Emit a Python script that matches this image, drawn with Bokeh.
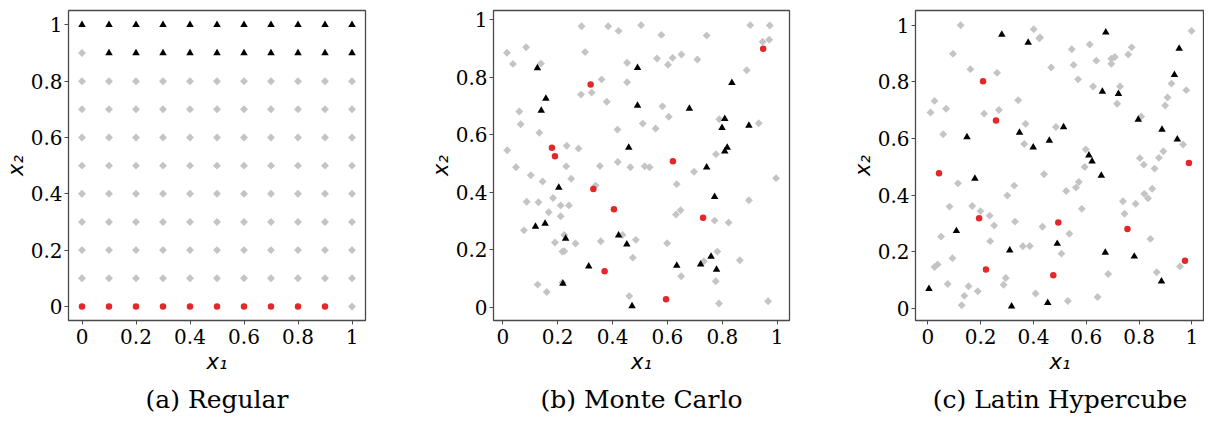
import math
from bokeh.plotting import figure
from bokeh.layouts import row
from bokeh.models import Range1d, FixedTicker, CustomJSTickFormatter, Title
from bokeh.embed import file_html
from bokeh.resources import INLINE

# ---------------- data ----------------
grid = [0.0, 0.1, 0.2, 0.3, 0.4, 0.5, 0.6, 0.7, 0.8, 0.9, 1.0]
ticks = [0, 0.2, 0.4, 0.6, 0.8, 1]

# (a) Regular: red circles on the bottom row (x < 1), black triangles on the top two rows
a_red_x = [0.0, 0.1, 0.2, 0.3, 0.4, 0.5, 0.6, 0.7, 0.8, 0.9]
a_red_y = [0.0] * 10
a_black_x = [0.0, 0.1, 0.2, 0.3, 0.4, 0.5, 0.6, 0.7, 0.8, 0.9, 1.0,
             0.1, 0.2, 0.3, 0.4, 0.5, 0.6, 0.7, 0.8, 0.9, 1.0]
a_black_y = [1.0] * 11 + [0.9] * 10
_special = set(zip(a_red_x, a_red_y)) | set(zip(a_black_x, a_black_y))
a_gray = [(x, y) for y in grid for x in grid if (x, y) not in _special]
a_gray_x = [p[0] for p in a_gray]
a_gray_y = [p[1] for p in a_gray]

# (b) Monte Carlo
b_red_x = [0.179, 0.190, 0.320, 0.949, 0.620, 0.330, 0.405, 0.371, 0.730, 0.595]
b_red_y = [0.555, 0.525, 0.775, 0.900, 0.508, 0.411, 0.341, 0.125, 0.311, 0.027]
b_black_x = [0.126, 0.157, 0.140, 0.459, 0.491, 0.835, 0.491, 0.680, 0.809, 0.799,
             0.897, 0.743, 0.809, 0.818, 0.204, 0.119, 0.154, 0.229, 0.422, 0.452,
             0.313, 0.219, 0.772, 0.634, 0.721, 0.759, 0.779, 0.471]
b_black_y = [0.832, 0.726, 0.684, 0.555, 0.833, 0.781, 0.702, 0.691, 0.656, 0.624,
             0.632, 0.487, 0.542, 0.555, 0.416, 0.280, 0.291, 0.238, 0.250, 0.218,
             0.142, 0.082, 0.384, 0.144, 0.149, 0.176, 0.130, 0.003]
b_gray_x = [0.015, 0.037, 0.085, 0.139, 0.060, 0.065, 0.133, 0.016, 0.233, 0.276,
            0.048, 0.231, 0.287, 0.300, 0.384, 0.422, 0.453, 0.360, 0.285, 0.324,
            0.379, 0.453, 0.418, 0.354, 0.419,
            0.504, 0.578, 0.743, 0.902, 0.973, 0.947, 0.971, 0.562, 0.602, 0.619,
            0.651, 0.709, 0.889, 0.582, 0.605, 0.789, 0.933, 0.510, 0.557, 0.465,
            0.517, 0.535, 0.697, 0.777,
            0.102, 0.145, 0.249, 0.338, 0.087, 0.130, 0.183, 0.211, 0.241, 0.167,
            0.211, 0.077, 0.224, 0.190, 0.265, 0.217, 0.224, 0.357, 0.436, 0.127,
            0.217, 0.160, 0.461,
            0.996, 0.634, 0.897, 0.648, 0.631, 0.772, 0.823, 0.485, 0.599, 0.474,
            0.733, 0.782, 0.864, 0.650, 0.776, 0.788, 0.967]
b_gray_y = [0.886, 0.847, 0.905, 0.848, 0.681, 0.637, 0.607, 0.546, 0.562, 0.552,
            0.487, 0.490, 0.978, 0.888, 0.978, 0.962, 0.851, 0.793, 0.740, 0.747,
            0.715, 0.783, 0.618, 0.491, 0.505,
            0.982, 0.948, 0.946, 0.982, 0.981, 0.924, 0.931, 0.866, 0.844, 0.868,
            0.880, 0.862, 0.825, 0.699, 0.663, 0.654, 0.640, 0.639, 0.622, 0.487,
            0.490, 0.487, 0.471, 0.532,
            0.459, 0.437, 0.447, 0.423, 0.367, 0.365, 0.380, 0.354, 0.354, 0.330,
            0.316, 0.267, 0.251, 0.225, 0.221, 0.193, 0.194, 0.229, 0.251, 0.078,
            0.085, 0.052, 0.038,
            0.449, 0.428, 0.372, 0.337, 0.322, 0.301, 0.294, 0.234, 0.222, 0.172,
            0.159, 0.193, 0.163, 0.107, 0.090, 0.012, 0.020]

# (c) Latin Hypercube
c_red_x = [0.209, 0.258, 0.989, 0.042, 0.194, 0.220, 0.494, 0.756, 0.974, 0.475]
c_red_y = [0.802, 0.664, 0.514, 0.478, 0.319, 0.138, 0.304, 0.281, 0.169, 0.118]
c_black_x = [0.280, 0.380, 0.148, 0.347, 0.399, 0.674, 0.952, 0.934, 0.661, 0.722,
             0.797, 0.514, 0.887, 0.460, 0.945, 0.610, 0.622, 0.178, 0.108, 0.310,
             0.004, 0.317, 0.657, 0.490, 0.672, 0.782, 0.885, 0.454]
c_black_y = [0.967, 0.939, 0.605, 0.621, 0.569, 0.975, 0.918, 0.825, 0.766, 0.758,
             0.667, 0.641, 0.632, 0.593, 0.597, 0.541, 0.520, 0.459, 0.274, 0.206,
             0.070, 0.008, 0.469, 0.229, 0.198, 0.184, 0.096, 0.020]
c_gray_x = [0.124, 0.401, 0.422, 0.425, 0.095, 0.161, 0.262, 0.025, 0.010, 0.069,
            0.213, 0.269, 0.342, 0.058, 0.370, 0.365,
            0.999, 0.545, 0.613, 0.772, 0.759, 0.695, 0.708, 0.695, 0.638, 0.467,
            0.552, 0.569, 0.923, 0.979, 0.626, 0.728, 0.717, 0.908, 0.899, 0.808,
            0.485, 0.967, 0.598, 0.594, 0.892, 0.875, 0.803, 0.818, 0.859,
            0.114, 0.301, 0.327, 0.440, 0.082, 0.168, 0.199, 0.234, 0.251, 0.330,
            0.434, 0.050, 0.236, 0.360, 0.386, 0.093, 0.025, 0.037, 0.075, 0.154,
            0.138, 0.189, 0.128, 0.295, 0.287, 0.408,
            0.572, 0.561, 0.524, 0.850, 0.820, 0.834, 0.739, 0.787, 0.583, 0.745,
            0.536, 0.843, 0.506, 0.955, 0.867, 0.683, 0.530, 0.643]
c_gray_y = [1.000, 0.986, 0.954, 0.957, 0.899, 0.845, 0.832, 0.733, 0.692, 0.705,
            0.688, 0.701, 0.735, 0.615, 0.652, 0.581,
            0.980, 0.915, 0.932, 0.922, 0.897, 0.882, 0.888, 0.864, 0.875, 0.851,
            0.860, 0.809, 0.794, 0.771, 0.784, 0.784, 0.723, 0.745, 0.717, 0.678,
            0.641, 0.579, 0.562, 0.500, 0.555, 0.532, 0.531, 0.508, 0.494,
            0.442, 0.399, 0.434, 0.474, 0.360, 0.362, 0.344, 0.328, 0.293, 0.307,
            0.289, 0.254, 0.238, 0.220, 0.221, 0.178, 0.147, 0.156, 0.087, 0.079,
            0.045, 0.061, 0.012, 0.108, 0.084, 0.053,
            0.447, 0.427, 0.415, 0.423, 0.405, 0.389, 0.379, 0.370, 0.352, 0.335,
            0.264, 0.246, 0.194, 0.149, 0.128, 0.122, 0.027, 0.041]

captions = ["(a) Regular", "(b) Monte Carlo", "(c) Latin Hypercube"]

# ---------------- styling ----------------
GRAY = "#c4c4c4"
RED = "#e3282b"
FRAME = "#4a4a4a"
SERIF = "DejaVu Serif"


def make_panel(gx, gy, bx, by, rx, ry, xr, yr, fw, bl, br, caption):
    p = figure(frame_width=fw, frame_height=310,
               x_range=Range1d(*xr), y_range=Range1d(*yr),
               output_backend="svg", toolbar_location=None,
               min_border_left=bl, min_border_right=br,
               min_border_top=10, min_border_bottom=0,
               background_fill_color="white", border_fill_color="white")
    p.grid.visible = False
    p.outline_line_color = FRAME
    p.outline_line_width = 1.3
    p.outline_line_alpha = 1.0

    p.scatter(gx, gy, marker="square", angle=math.pi / 4, size=5.6,
              fill_color=GRAY, line_color=None)
    p.scatter(bx, by, marker="triangle", size=7.5,
              fill_color="black", line_color=None)
    p.scatter(rx, ry, marker="circle", size=6.5,
              fill_color=RED, line_color=None)

    fmt = "return String(Math.round(tick*10)/10);"
    axes = [p.xaxis[0], p.yaxis[0]]
    labels = ["x\u2081", "x\u2082"]
    for ax, lab in zip(axes, labels):
        ax.ticker = FixedTicker(ticks=ticks)
        ax.formatter = CustomJSTickFormatter(code=fmt)
        ax.axis_line_color = None
        ax.major_tick_line_color = FRAME
        ax.major_tick_line_width = 1
        ax.major_tick_out = 4
        ax.major_tick_in = 0
        ax.minor_tick_line_color = None
        ax.major_label_text_font = SERIF
        ax.major_label_text_font_size = "20px"
        ax.major_label_text_color = "black"
        ax.major_label_standoff = 2
        ax.axis_label = lab
        ax.axis_label_text_font = "DejaVu Sans"
        ax.axis_label_text_font_style = "italic"
        ax.axis_label_text_font_size = "21px"
        ax.axis_label_text_color = "black"
        ax.axis_label_standoff = 0
    p.xaxis[0].major_label_standoff = 4
    p.xaxis[0].axis_label_standoff = 3

    t = Title(text=caption, align="center", text_font=SERIF,
              text_font_size="25px", text_font_style="normal",
              text_color="black", standoff=13)
    p.add_layout(t, "below")
    return p


pa = make_panel(a_gray_x, a_gray_y, a_black_x, a_black_y, a_red_x, a_red_y,
                (-0.05, 1.05), (-0.05, 1.051), 297, 61, 60, captions[0])
pb = make_panel(b_gray_x, b_gray_y, b_black_x, b_black_y, b_red_x, b_red_y,
                (-0.034, 1.045), (-0.047, 1.033), 296, 60, 58, captions[1])
pc = make_panel(c_gray_x, c_gray_y, c_black_x, c_black_y, c_red_x, c_red_y,
                (-0.047, 1.048), (-0.042, 1.052), 289, 60, 0, captions[2])

layout = row(pa, pb, pc)
open("out.html", "w").write(file_html(layout, INLINE))
